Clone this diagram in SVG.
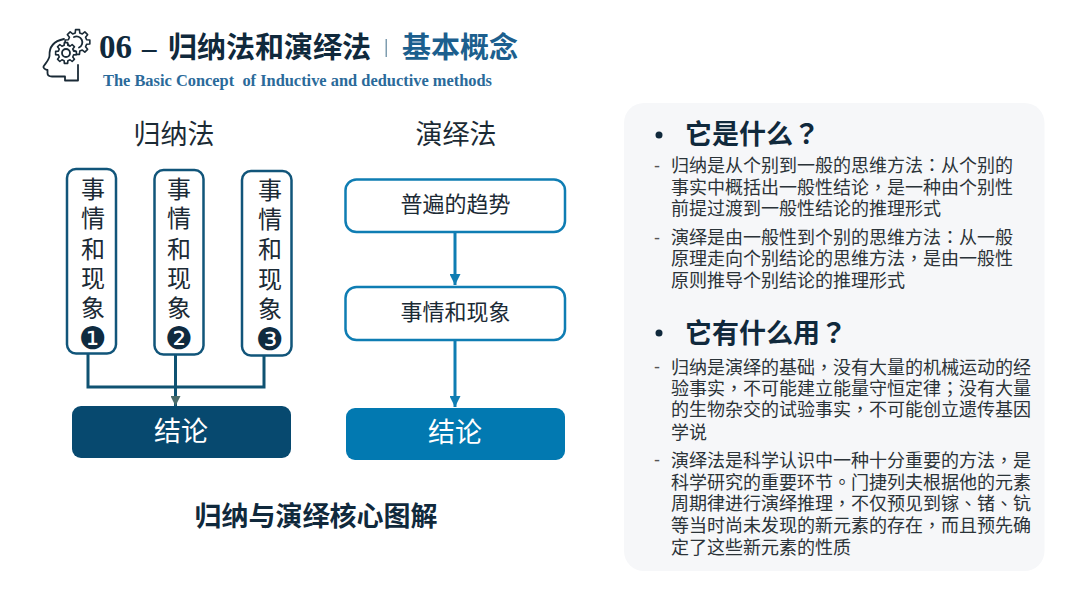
<svg xmlns="http://www.w3.org/2000/svg" xmlns:xlink="http://www.w3.org/1999/xlink" width="1080" height="608" viewBox="0 0 1080 608">
<style>
text{font-family:"Noto Sans CJK SC","Noto Sans",sans-serif;fill:#1b2a35}
tspan.p{font-family:"Noto Sans CJK TC","Noto Sans CJK SC",sans-serif}
.c{text-anchor:middle}
.ttl{font-size:27px}
.v{font-size:24px;text-anchor:middle}
.n{font-family:"DejaVu Sans",sans-serif;font-size:31px;text-anchor:middle;fill:#0f2b40}
.b{font-size:18px;fill:#2b3338}
.h{font-size:27px;font-weight:700;fill:#10293c}
.d{font-family:"Liberation Sans",sans-serif;font-size:18px;fill:#555}
.w{fill:#fff;font-size:27px;text-anchor:middle}
.lb{fill:#fff;stroke:#11557a;stroke-width:2.5}
.rb{fill:#fff;stroke:#0f7db3;stroke-width:2.5}
.lc{fill:none;stroke:#0f5272;stroke-width:3}
.rc{fill:none;stroke:#0f7db3;stroke-width:3}
.ic{fill:none;stroke:#1a2a36;stroke-width:1.8;stroke-linejoin:round;stroke-linecap:round}
.g{fill:#fff;stroke:#1a2a36;stroke-width:1.6;stroke-linejoin:round;vector-effect:non-scaling-stroke}
</style>
<defs>
<marker id="al" markerUnits="userSpaceOnUse" markerWidth="10" markerHeight="10" refX="10" refY="5" orient="auto"><path d="M0 0L10 5L0 10Z" fill="#4a6b6a"/></marker>
<marker id="ar" markerUnits="userSpaceOnUse" markerWidth="11" markerHeight="11" refX="11" refY="5.5" orient="auto"><path d="M0 0L11 5.5L0 11Z" fill="#0f7db3"/></marker>
<path id="gear" class="g" d="M.728-.181L.988-.156L.988.156L.728.181L.643.386L.809.588L.588.809L.386.643L.181.728L.156.988L-.156.988L-.181.728L-.386.643L-.588.809L-.809.588L-.643.386L-.728.181L-.988.156L-.988-.156L-.728-.181L-.643-.386L-.809-.588L-.588-.809L-.386-.643L-.181-.728L-.156-.988L.156-.988L.181-.728L.386-.643L.588-.809L.809-.588L.643-.386Z"/>
</defs>
<rect width="1080" height="608" fill="#fff"/>

<g id="header">
<g id="icon">
<path class="ic" d="M64 39C54 41 49 47 49.500 56C49 60 45.500 63.500 43.500 66.500C43 68 45 69.500 47.500 70L47.500 73C47.500 75.500 49.500 76.500 52 76.500L65 76.500L65 80.500L78 80.500L78 65"/>
<use xlink:href="#gear" transform="translate(77.500 42) scale(12.500)"/>
<path class="ic" d="M74 37A5.500 5.500 0 1 1 79 47.500"/>
<use xlink:href="#gear" transform="translate(66 53) scale(10.500)"/>
<circle class="ic" cx="66" cy="53" r="4"/>
</g>
<text x="99" y="58" font-size="33" style="font-family:'Liberation Serif',serif;font-weight:700;fill:#10293c">06</text>
<text x="142" y="58" font-size="29" style="font-family:'Liberation Serif',serif;font-weight:700;fill:#10293c">–</text>
<text x="168" y="58" font-size="29" font-weight="700" style="fill:#10293c">归纳法和演绎法</text>
<rect x="385.500" y="39" width="1.500" height="18" fill="#7f9db0"/>
<text x="402" y="58" font-size="29" font-weight="700" style="fill:#1c5f8e">基本概念</text>
<text x="103" y="86" font-size="16" textLength="389" lengthAdjust="spacingAndGlyphs" style="font-family:'Liberation Serif',serif;font-weight:700;fill:#2a6a9a">The Basic Concept&#160; of Inductive and deductive methods</text>
</g>

<text class="ttl c" x="174" y="144">归纳法</text>
<text class="ttl c" x="456" y="144">演绎法</text>

<g id="connectors">
<path class="lc" d="M88 354V387H264V355"/>
<path class="lc" d="M175.500 355V406" marker-end="url(#al)"/>
<path class="rc" d="M455 232V285" marker-end="url(#ar)"/>
<path class="rc" d="M455 340V407" marker-end="url(#ar)"/>
</g>

<g id="n1"><rect class="lb" x="67" y="169" width="49" height="184.500" rx="9"/>
<text class="v" x="93" y="198">事</text><text class="v" x="93" y="227">情</text><text class="v" x="93" y="258">和</text><text class="v" x="93" y="287">现</text><text class="v" x="93" y="317">象</text><text class="n" x="93" y="349">❶</text></g>
<g id="n2"><rect class="lb" x="154.500" y="170" width="49" height="184.500" rx="9"/>
<text class="v" x="179" y="198">事</text><text class="v" x="179" y="227">情</text><text class="v" x="179" y="258">和</text><text class="v" x="179" y="287">现</text><text class="v" x="179" y="317">象</text><text class="n" x="179" y="349">❷</text></g>
<g id="n3"><rect class="lb" x="242" y="171" width="49.500" height="184.500" rx="9"/>
<text class="v" x="270" y="199">事</text><text class="v" x="270" y="228">情</text><text class="v" x="270" y="258">和</text><text class="v" x="270" y="288">现</text><text class="v" x="270" y="318">象</text><text class="n" x="270" y="350">❸</text></g>
<g id="n4"><rect x="72" y="406" width="219" height="52" rx="9" fill="#07496f"/><text class="w" x="181" y="441">结论</text></g>

<g id="n5"><rect class="rb" x="345.500" y="179.500" width="219.500" height="52.500" rx="11"/><text class="c" x="455.500" y="212" font-size="22">普遍的趋势</text></g>
<g id="n6"><rect class="rb" x="345.500" y="287" width="219.500" height="53" rx="11"/><text class="c" x="455.500" y="320" font-size="22">事情和现象</text></g>
<g id="n7"><rect x="346" y="408" width="219" height="52" rx="9" fill="#0279b1"/><text class="w" x="455" y="442">结论</text></g>

<text class="c" x="316" y="526" font-size="27" font-weight="700" style="fill:#10293c">归纳与演绎核心图解</text>

<g id="panel">
<rect x="624" y="103" width="420.500" height="468" rx="20" fill="#f6f7f9"/>
<circle cx="659" cy="135" r="3.500" fill="#10293c"/>
<text class="h" x="685" y="144">它是什么<tspan class="p">？</tspan></text>
<text class="d" x="654" y="172">-</text>
<text class="b" x="671" y="172">归纳是从个别到一般的思维方法<tspan class="p">：</tspan>从个别的</text>
<text class="b" x="671" y="194">事实中概括出一般性结论<tspan class="p">，</tspan>是一种由个别性</text>
<text class="b" x="671" y="215">前提过渡到一般性结论的推理形式</text>
<text class="d" x="654" y="244">-</text>
<text class="b" x="671" y="244">演绎是由一般性到个别的思维方法<tspan class="p">：</tspan>从一般</text>
<text class="b" x="671" y="265">原理走向个别结论的思维方法<tspan class="p">，</tspan>是由一般性</text>
<text class="b" x="671" y="287">原则推导个别结论的推理形式</text>
<circle cx="659" cy="333" r="3.500" fill="#10293c"/>
<text class="h" x="685" y="343">它有什么用<tspan class="p">？</tspan></text>
<text class="d" x="654" y="373">-</text>
<text class="b" x="671" y="374">归纳是演绎的基础<tspan class="p">，</tspan>没有大量的机械运动的经</text>
<text class="b" x="671" y="395">验事实<tspan class="p">，</tspan>不可能建立能量守恒定律<tspan class="p">；</tspan>没有大量</text>
<text class="b" x="671" y="416">的生物杂交的试验事实<tspan class="p">，</tspan>不可能创立遗传基因</text>
<text class="b" x="671" y="439">学说</text>
<text class="d" x="654" y="466">-</text>
<text class="b" x="671" y="467">演绎法是科学认识中一种十分重要的方法<tspan class="p">，</tspan>是</text>
<text class="b" x="671" y="489">科学研究的重要环节<tspan class="p">。</tspan>门捷列夫根据他的元素</text>
<text class="b" x="671" y="510">周期律进行演绎推理<tspan class="p">，</tspan>不仅预见到镓<tspan class="p">、</tspan>锗<tspan class="p">、</tspan>钪</text>
<text class="b" x="671" y="532">等当时尚未发现的新元素的存在<tspan class="p">，</tspan>而且预先确</text>
<text class="b" x="671" y="554">定了这些新元素的性质</text>
</g>
</svg>
